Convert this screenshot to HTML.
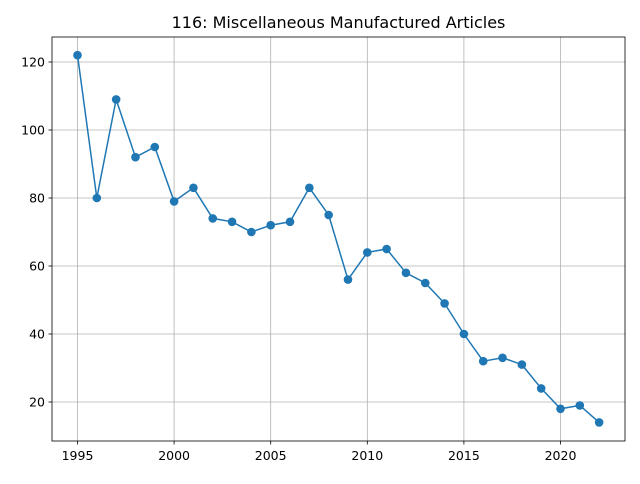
<!DOCTYPE html>
<html><head><meta charset="utf-8"><style>
body{margin:0;background:#fff;font-family:"DejaVu Sans","Liberation Sans",sans-serif}
</style></head><body>
<svg id="c" width="640" height="480" xmlns="http://www.w3.org/2000/svg" font-family="DejaVu Sans, Liberation Sans, sans-serif"></svg>
<script>
const years=[1995,1996,1997,1998,1999,2000,2001,2002,2003,2004,2005,2006,2007,2008,2009,2010,2011,2012,2013,2014,2015,2016,2017,2018,2019,2020,2021,2022];
const values=[122,80,109,92,95,79,83,74,73,70,72,73,83,75,56,64,65,58,55,49,40,32,33,31,24,18,19,14];
const xTicks=[1995,2000,2005,2010,2015,2020];
const yTicks=[20,40,60,80,100,120];
const title="116: Miscellaneous Manufactured Articles";
const L=52,R=625,T=37,B=441;
const xs=v=>77.5+(v-1995)*19.32;
const ys=v=>402-(v-20)*3.4;
const svg=document.getElementById('c');
const NS='http://www.w3.org/2000/svg';
function mk(tag,attrs,parent){const e=document.createElementNS(NS,tag);for(const k in attrs)e.setAttribute(k,attrs[k]);(parent||svg).appendChild(e);return e;}
const grid=mk('g',{});


xTicks.forEach(t=>{const x=xs(t);
 const l=mk('line',{x1:x,x2:x,y1:T,y2:B,stroke:'#b0b0b0','stroke-width':0.8},grid);
 
 mk('line',{x1:x,x2:x,y1:B,y2:B+3.5,stroke:'#000','stroke-width':0.8});
 const tx=mk('text',{x:x,y:B+19,'text-anchor':'middle','font-size':12.5,fill:'#000'});tx.textContent=t;
 
});
yTicks.forEach(t=>{const y=ys(t);
 const l=mk('line',{x1:L,x2:R,y1:y,y2:y,stroke:'#b0b0b0','stroke-width':0.8},grid);
 
 mk('line',{x1:L-3.5,x2:L,y1:y,y2:y,stroke:'#000','stroke-width':0.8});
 const tx=mk('text',{x:L-7,y:y+4.5,'text-anchor':'end','font-size':12.5,fill:'#000'});tx.textContent=t;
 
});
const pts=years.map((y,i)=>xs(y)+','+ys(values[i])).join(' ');
const line=mk('polyline',{points:pts,fill:'none',stroke:'#1f77b4','stroke-width':1.5});


years.forEach((y,i)=>{const c=mk('circle',{cx:xs(y),cy:ys(values[i]),r:4.3,fill:'#1f77b4'});
 
 });
const fr=mk('rect',{x:L,y:T,width:R-L,height:B-T,fill:'none',stroke:'#000','stroke-width':0.8});


const tt=mk('text',{x:(L+R)/2,y:28,'text-anchor':'middle','font-size':16,fill:'#000'});tt.textContent=title;


</script>
</body></html>
